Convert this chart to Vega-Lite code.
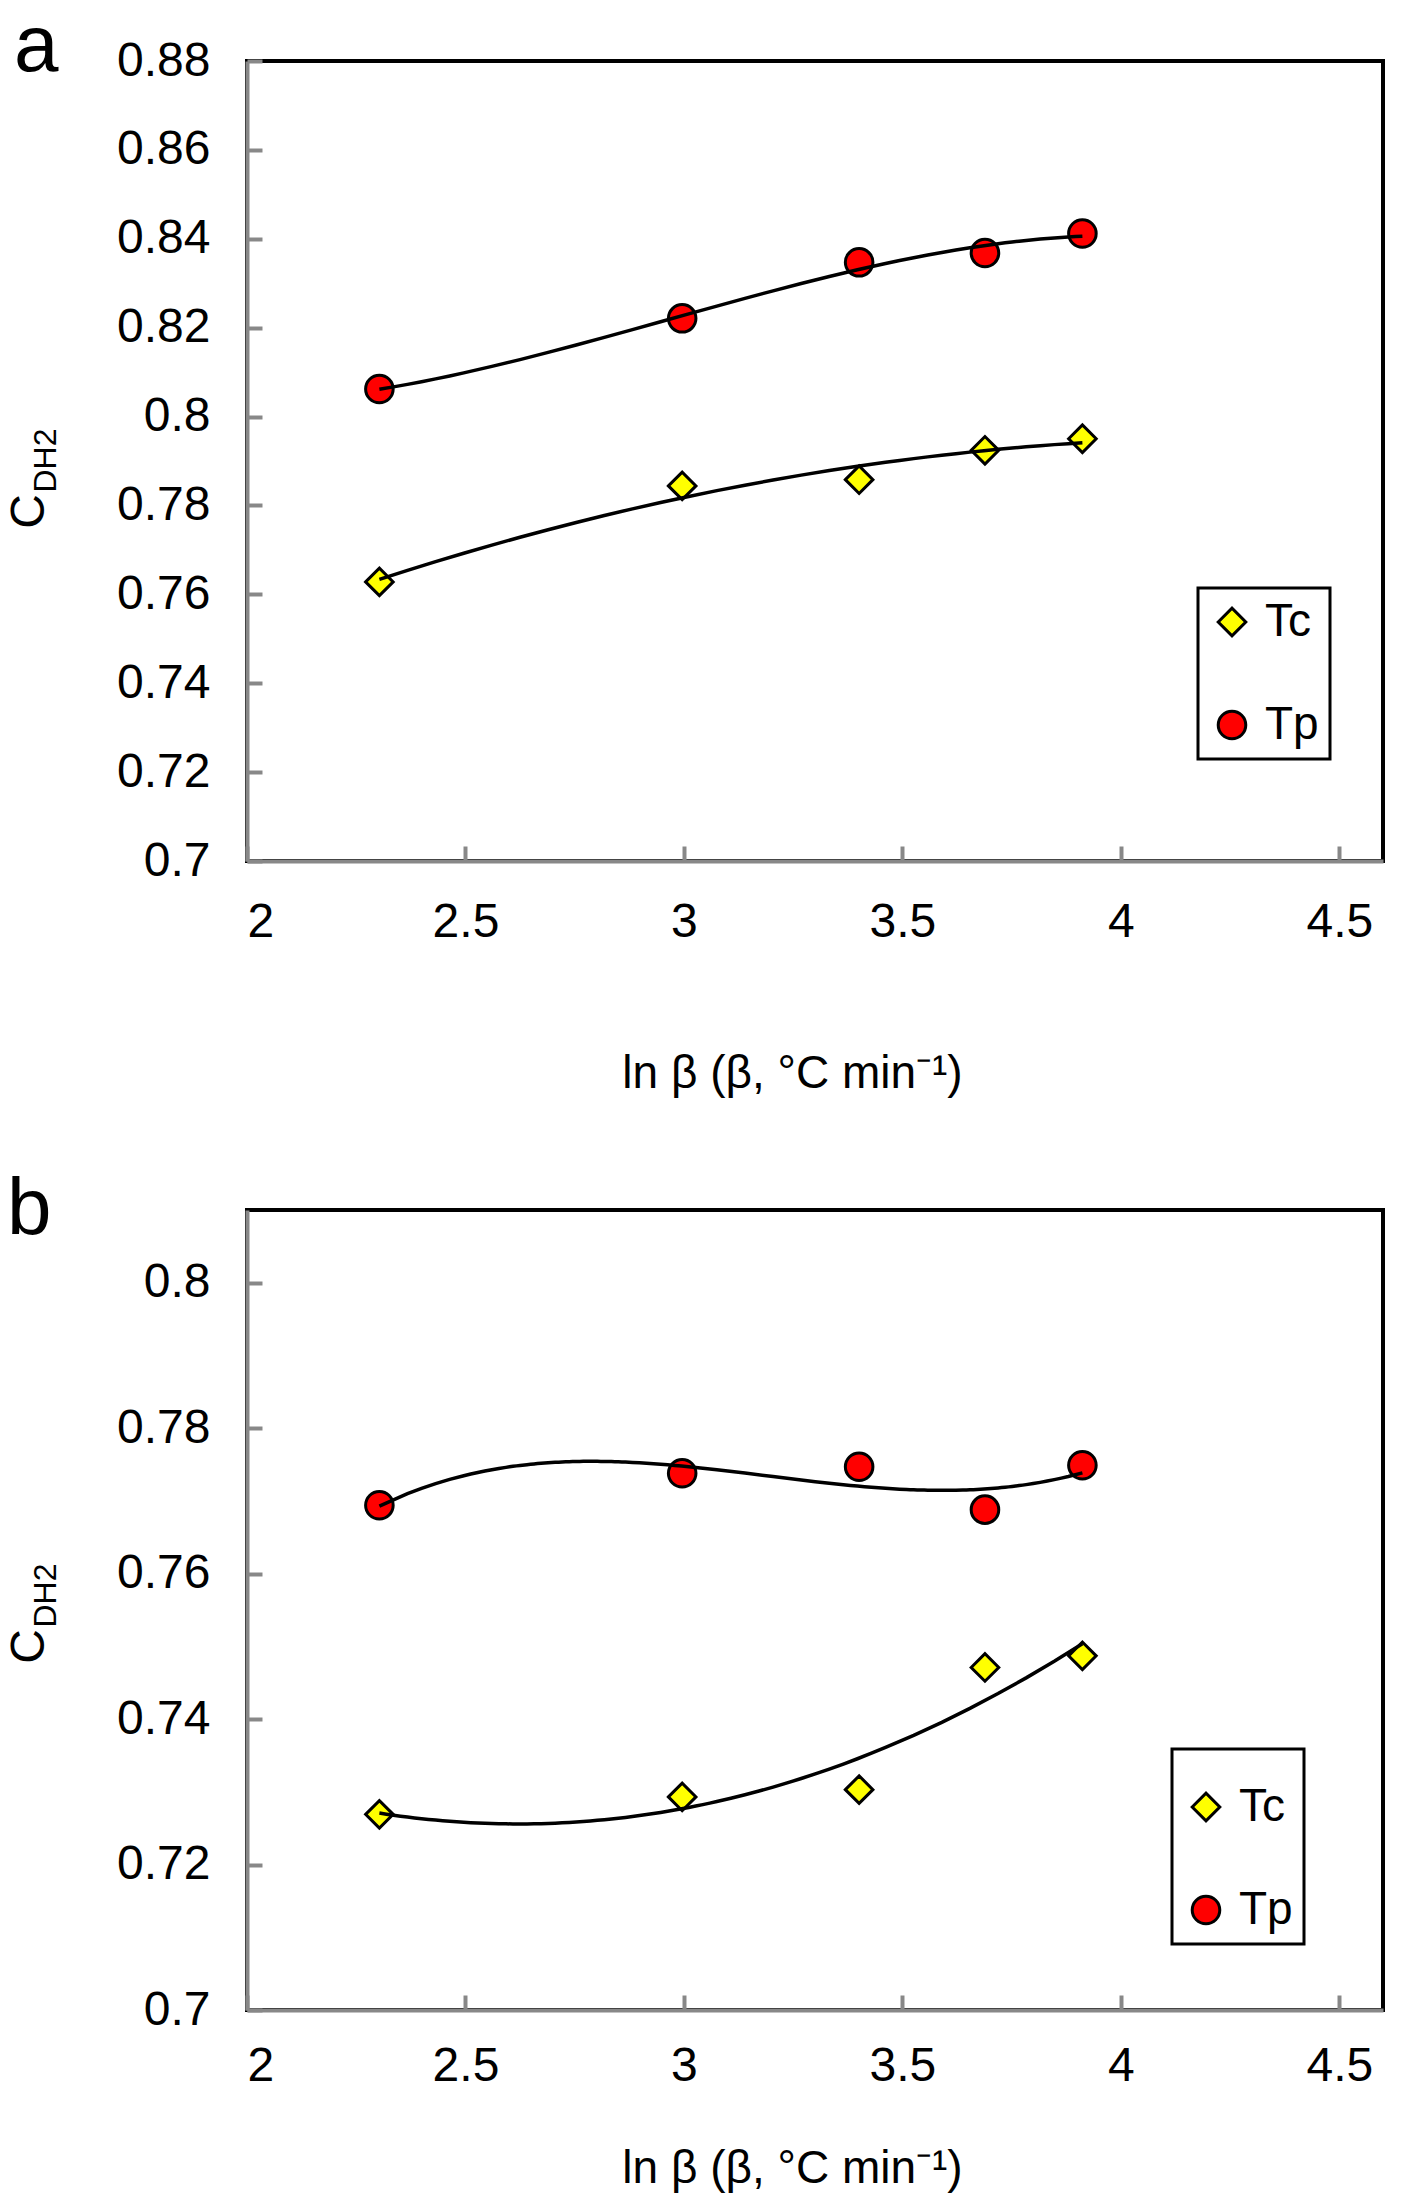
{
  "$schema": "https://vega.github.io/schema/vega-lite/v6.json",
  "background": "white",
  "padding": {"left": 3, "top": 5, "right": 0, "bottom": 0},
  "autosize": {"type": "pad"},
  "datasets": {
    "a": [
      {"series": "Tc", "x": 2.303, "y": 0.7628},
      {"series": "Tc", "x": 2.996, "y": 0.7844},
      {"series": "Tc", "x": 3.401, "y": 0.7858},
      {"series": "Tc", "x": 3.689, "y": 0.7924},
      {"series": "Tc", "x": 3.912, "y": 0.7950},
      {"series": "Tp", "x": 2.303, "y": 0.8062},
      {"series": "Tp", "x": 2.996, "y": 0.8221},
      {"series": "Tp", "x": 3.401, "y": 0.8347},
      {"series": "Tp", "x": 3.689, "y": 0.8368},
      {"series": "Tp", "x": 3.912, "y": 0.8412}
    ],
    "b": [
      {"series": "Tc", "x": 2.303, "y": 0.7269},
      {"series": "Tc", "x": 2.996, "y": 0.7293},
      {"series": "Tc", "x": 3.401, "y": 0.7303},
      {"series": "Tc", "x": 3.689, "y": 0.7471},
      {"series": "Tc", "x": 3.912, "y": 0.7487},
      {"series": "Tp", "x": 2.303, "y": 0.7694},
      {"series": "Tp", "x": 2.996, "y": 0.7738},
      {"series": "Tp", "x": 3.401, "y": 0.7747},
      {"series": "Tp", "x": 3.689, "y": 0.7688},
      {"series": "Tp", "x": 3.912, "y": 0.7749}
    ]
  },
  "config": {
    "font": "Liberation Sans",
    "view": {"stroke": "black", "strokeWidth": 4},
    "axis": {
      "grid": false,
      "domainColor": "#888888",
      "domainWidth": 4,
      "tickColor": "#888888",
      "tickWidth": 4,
      "tickSize": -15,
      "labelColor": "black",
      "labelFontSize": 48,
      "titleColor": "black",
      "titleFontWeight": "normal",
      "titleFontSize": 46
    },
    "legend": {
      "orient": "none",
      "strokeColor": "black",
      "strokeWidth": 3,
      "fillColor": "white",
      "labelFontSize": 46,
      "labelColor": "black",
      "symbolSize": 760,
      "symbolStrokeColor": "black",
      "symbolStrokeWidth": 3,
      "symbolOpacity": 1,
      "labelOffset": 10,
      "rowPadding": 57
    },
    "title": {"fontWeight": "normal", "color": "black"}
  },
  "spacing": 349,
  "bounds": "flush",
  "resolve": {
    "scale": {"fill": "independent", "shape": "independent"},
    "legend": {"fill": "independent", "shape": "independent"}
  },
  "vconcat": [
    {
      "width": 1136,
      "height": 800,
      "title": {"text": "a", "anchor": "start", "frame": "group", "fontSize": 80, "baseline": "alphabetic", "offset": -101, "dx": -233, "dy": 13},
      "data": {"name": "a"},
      "layer": [
        {
          "mark": {"type": "point", "filled": true, "stroke": "black", "strokeWidth": 3, "opacity": 1, "size": 760},
          "encoding": {
            "x": {"field": "x", "type": "quantitative", "scale": {"domain": [2, 4.5]},
              "axis": {"values": [2, 2.5, 3, 3.5, 4, 4.5], "format": "~g", "labelPadding": 52,
                "title": "ln β (β, °C min⁻¹)", "titleX": 545, "titleY": 226, "titleAlign": "center", "titleBaseline": "alphabetic"}},
            "y": {"field": "y", "type": "quantitative", "scale": {"domain": [0.7, 0.88]},
              "axis": {"values": [0.7, 0.72, 0.74, 0.76, 0.78, 0.8, 0.82, 0.84, 0.86, 0.88], "format": "~g", "labelPadding": 52,
                "title": "C", "titleFontSize": 48, "titleAngle": 270, "titleX": -204, "titleY": 450, "titleAlign": "center", "titleBaseline": "alphabetic"}},
            "fill": {"field": "series", "type": "nominal", "scale": {"domain": ["Tc", "Tp"], "range": ["#FFFF00", "#FF0000"]},
              "legend": {"title": null, "legendX": 951, "legendY": 527, "padding": 11,
                "symbolStrokeColor": "black", "symbolStrokeWidth": 3, "symbolSize": 760,
                "encode": {"symbols": {"update": {"stroke": {"value": "black"}, "strokeWidth": {"value": 3}, "size": {"value": 760}}}}}},
            "shape": {"field": "series", "type": "nominal", "scale": {"domain": ["Tc", "Tp"], "range": ["diamond", "circle"]},
              "legend": {"title": null, "legendX": 951, "legendY": 527, "padding": 11,
                "symbolStrokeColor": "black", "symbolStrokeWidth": 3, "symbolSize": 760,
                "encode": {"symbols": {"update": {"stroke": {"value": "black"}, "strokeWidth": {"value": 3}, "size": {"value": 760}}}}}}
          }
        },
        {
          "layer": [
            {
              "transform": [{"filter": "datum.series === 'Tc'"}, {"regression": "y", "on": "x", "method": "poly", "order": 2}],
              "mark": {"type": "line", "color": "black", "strokeWidth": 3.5},
              "encoding": {
                "x": {"field": "x", "type": "quantitative"},
                "y": {"field": "y", "type": "quantitative", "scale": {"domain": [0.7, 0.88], "zero": false},
                  "axis": {"orient": "right", "domain": false, "ticks": false, "labels": false,
                    "title": "DH2", "titleFontSize": 32, "titleAngle": 270, "titleX": -1328, "titleY": 399, "titleAlign": "center", "titleBaseline": "alphabetic"}}
              }
            },
            {
              "transform": [{"filter": "datum.series === 'Tp'"}, {"regression": "y", "on": "x", "method": "poly", "order": 3}],
              "mark": {"type": "line", "color": "black", "strokeWidth": 3.5},
              "encoding": {
                "x": {"field": "x", "type": "quantitative"},
                "y": {"field": "y", "type": "quantitative", "scale": {"domain": [0.7, 0.88], "zero": false},
                  "axis": {"orient": "right", "domain": false, "ticks": false, "labels": false,
                    "title": "DH2", "titleFontSize": 32, "titleAngle": 270, "titleX": -1328, "titleY": 399, "titleAlign": "center", "titleBaseline": "alphabetic"}}
              }
            }
          ]
        }
      ],
      "resolve": {"scale": {"y": "independent"}}
    },
    {
      "width": 1136,
      "height": 800,
      "title": {"text": "b", "anchor": "start", "frame": "group", "fontSize": 80, "baseline": "alphabetic", "offset": -80, "dx": -240, "dy": 24},
      "data": {"name": "b"},
      "layer": [
        {
          "mark": {"type": "point", "filled": true, "stroke": "black", "strokeWidth": 3, "opacity": 1, "size": 760},
          "encoding": {
            "x": {"field": "x", "type": "quantitative", "scale": {"domain": [2, 4.5]},
              "axis": {"values": [2, 2.5, 3, 3.5, 4, 4.5], "format": "~g", "labelPadding": 47,
                "title": "ln β (β, °C min⁻¹)", "titleX": 545, "titleY": 172, "titleAlign": "center", "titleBaseline": "alphabetic"}},
            "y": {"field": "y", "type": "quantitative", "scale": {"domain": [0.7, 0.81]},
              "axis": {"values": [0.7, 0.72, 0.74, 0.76, 0.78, 0.8], "format": "~g", "labelPadding": 52,
                "title": "C", "titleFontSize": 48, "titleAngle": 270, "titleX": -204, "titleY": 436, "titleAlign": "center", "titleBaseline": "alphabetic"}},
            "fill": {"field": "series", "type": "nominal", "scale": {"domain": ["Tc", "Tp"], "range": ["#FFFF00", "#FF0000"]},
              "legend": {"title": " ", "titleFontSize": 14, "titlePadding": 10, "legendX": 925, "legendY": 539, "padding": 11,
                "labelExpr": "datum.label + '\u00a0\u00a0'",
                "symbolStrokeColor": "black", "symbolStrokeWidth": 3, "symbolSize": 760,
                "encode": {"symbols": {"update": {"stroke": {"value": "black"}, "strokeWidth": {"value": 3}, "size": {"value": 760}}}}}},
            "shape": {"field": "series", "type": "nominal", "scale": {"domain": ["Tc", "Tp"], "range": ["diamond", "circle"]},
              "legend": {"title": " ", "titleFontSize": 14, "titlePadding": 10, "legendX": 925, "legendY": 539, "padding": 11,
                "labelExpr": "datum.label + '\u00a0\u00a0'",
                "symbolStrokeColor": "black", "symbolStrokeWidth": 3, "symbolSize": 760,
                "encode": {"symbols": {"update": {"stroke": {"value": "black"}, "strokeWidth": {"value": 3}, "size": {"value": 760}}}}}}
          }
        },
        {
          "layer": [
            {
              "transform": [{"filter": "datum.series === 'Tc'"}, {"regression": "y", "on": "x", "method": "poly", "order": 2}],
              "mark": {"type": "line", "color": "black", "strokeWidth": 3.5},
              "encoding": {
                "x": {"field": "x", "type": "quantitative"},
                "y": {"field": "y", "type": "quantitative", "scale": {"domain": [0.7, 0.81], "zero": false},
                  "axis": {"orient": "right", "domain": false, "ticks": false, "labels": false,
                    "title": "DH2", "titleFontSize": 32, "titleAngle": 270, "titleX": -1328, "titleY": 385, "titleAlign": "center", "titleBaseline": "alphabetic"}}
              }
            },
            {
              "transform": [{"filter": "datum.series === 'Tp'"}, {"regression": "y", "on": "x", "method": "poly", "order": 3}],
              "mark": {"type": "line", "color": "black", "strokeWidth": 3.5},
              "encoding": {
                "x": {"field": "x", "type": "quantitative"},
                "y": {"field": "y", "type": "quantitative", "scale": {"domain": [0.7, 0.81], "zero": false},
                  "axis": {"orient": "right", "domain": false, "ticks": false, "labels": false,
                    "title": "DH2", "titleFontSize": 32, "titleAngle": 270, "titleX": -1328, "titleY": 385, "titleAlign": "center", "titleBaseline": "alphabetic"}}
              }
            }
          ]
        }
      ],
      "resolve": {"scale": {"y": "independent"}}
    }
  ]
}
